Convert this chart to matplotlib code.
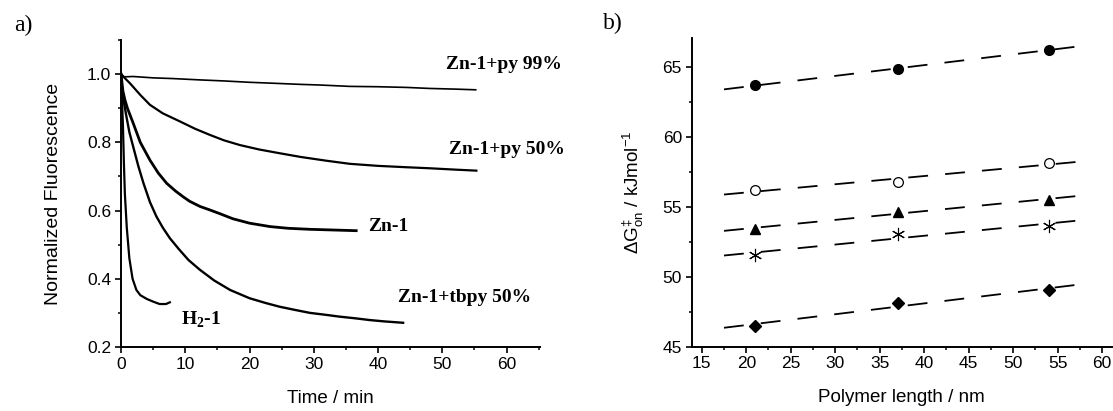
import numpy as np
import matplotlib
matplotlib.use("Agg")
import matplotlib.pyplot as plt
from matplotlib.ticker import MultipleLocator

plt.rcParams['font.family'] = 'Liberation Sans'
plt.rcParams['mathtext.fontset'] = 'custom'
plt.rcParams['mathtext.rm'] = 'Liberation Serif:bold'
plt.rcParams['mathtext.sf'] = 'Liberation Sans'
plt.rcParams['mathtext.it'] = 'Liberation Sans:italic'
plt.rcParams['mathtext.bf'] = 'Liberation Sans:bold'

# ---- panel a: fluorescence decay traces ----
t_py99 = [0, 0.5, 1.9, 5, 8, 12.3, 16, 20, 24, 27.8, 31, 35.6, 40, 44.4, 48, 52, 55.2]
f_py99 = [1.0, 0.992, 0.993, 0.989, 0.987, 0.983, 0.980, 0.976, 0.973, 0.970, 0.968,
          0.964, 0.963, 0.961, 0.958, 0.956, 0.954]

t_py50 = [0, 0.5, 1.4, 3, 4.5, 6.5, 9.2, 11.5, 13.8, 16, 18.5, 21.5, 24.7, 28, 32,
          35.6, 40, 44.4, 48, 52, 55.3]
f_py50 = [1.0, 0.99, 0.973, 0.939, 0.91, 0.885, 0.861, 0.84, 0.822, 0.806, 0.792,
          0.779, 0.768, 0.757, 0.746, 0.737, 0.731, 0.727, 0.724, 0.72, 0.717]

t_zn1 = [0, 0.3, 0.6, 1.0, 1.9, 3, 4.5, 5.8, 7.1, 8.5, 9.7, 10.7, 12.3, 13.8, 15.5,
         17.4, 20, 23.2, 26, 29.4, 33, 36.6]
f_zn1 = [1.0, 0.95, 0.925, 0.9, 0.856, 0.8, 0.748, 0.71, 0.68, 0.657, 0.64, 0.627,
         0.612, 0.602, 0.59, 0.576, 0.563, 0.553, 0.548, 0.545, 0.543, 0.541]

t_tbpy = [0, 0.2, 0.4, 0.8, 1.3, 1.9, 2.7, 3.5, 4.5, 5.5, 6.5, 7.6, 9, 10.5, 12.3,
          14.5, 17, 20, 22.5, 24.7, 27, 29.4, 32, 34, 36.5, 38.7, 41, 43.9]
f_tbpy = [1.0, 0.95, 0.924, 0.88, 0.83, 0.787, 0.73, 0.68, 0.625, 0.583, 0.55, 0.519,
          0.487, 0.455, 0.426, 0.395, 0.367, 0.343, 0.329, 0.318, 0.309, 0.300, 0.294,
          0.289, 0.284, 0.279, 0.275, 0.271]

t_h2 = [0, 0.15, 0.3, 0.45, 0.6, 0.9, 1.3, 1.8, 2.4, 3, 4, 5, 6, 7, 7.6]
f_h2 = [1.0, 0.93, 0.85, 0.74, 0.65, 0.55, 0.46, 0.40, 0.367, 0.352, 0.341, 0.333,
        0.326, 0.326, 0.331]

curve_labels = ['Zn-1+py 99%', 'Zn-1+py 50%', 'Zn-1', 'Zn-1+tbpy 50%', r'H$_{2}$-1']
label_x = [50.5, 51.0, 38.5, 43.1, 9.4]
label_y = [1.027, 0.778, 0.553, 0.344, 0.281]

# ---- panel b: activation energy vs polymer length ----
length_nm = [21, 37, 54]
g_filled_circle = [63.66, 64.86, 66.2]
g_open_circle = [56.2, 56.77, 58.13]
g_triangle = [53.43, 54.62, 55.5]
g_asterisk = [51.56, 53.07, 53.64]
g_diamond = [46.5, 48.1, 49.06]
fit_range = [17.5, 57.5]

fig = plt.figure(figsize=(11.13, 4.11), dpi=100)
ax1 = fig.add_axes([121 / 1113, 64 / 411, 419 / 1113, 307 / 411])
ax2 = fig.add_axes([691.7 / 1113, 64.3 / 411, 420.3 / 1113, 309 / 411])

for ax in (ax1, ax2):
    for side in ('top', 'right'):
        ax.spines[side].set_visible(False)
    for side in ('left', 'bottom'):
        ax.spines[side].set_linewidth(1.4)
    ax.tick_params(which='major', direction='out', length=4, width=1.2,
                   labelsize=12.5, pad=3)
    ax.tick_params(which='minor', direction='out', length=2.5, width=1.1)

ax1.plot(t_py99, f_py99, color='black', lw=1.2)
ax1.plot(t_py50, f_py50, color='black', lw=1.6)
ax1.plot(t_zn1, f_zn1, color='black', lw=2.0)
ax1.plot(t_tbpy, f_tbpy, color='black', lw=1.7)
ax1.plot(t_h2, f_h2, color='black', lw=1.6)

for txt, x, y in zip(curve_labels, label_x, label_y):
    ax1.text(x, y, txt, ha='left', va='center', fontsize=14, fontweight='bold',
             family='Liberation Serif', clip_on=False)

ax1.set_xlim(0, 65.2)
ax1.set_ylim(0.2, 1.1)
ax1.xaxis.set_minor_locator(MultipleLocator(5))
ax1.yaxis.set_minor_locator(MultipleLocator(0.1))
ax1.set_yticks([0.2, 0.4, 0.6, 0.8, 1.0])
ax1.set_yticklabels(['0.2', '0.4', '0.6', '0.8', '1.0'])
ax1.set_xticks([0, 10, 20, 30, 40, 50, 60])
ax1.set_xlabel('Time / min', fontsize=13.5, labelpad=13)
ax1.set_ylabel('Normalized Fluorescence', fontsize=14, labelpad=18)

series = [
    (g_filled_circle, dict(marker='o', ms=7, mfc='black', mec='black')),
    (g_open_circle, dict(marker='o', ms=7, mfc='white', mec='black', mew=0.9)),
    (g_triangle, dict(marker='^', ms=7.5, mfc='black', mec='black')),
    (g_asterisk, dict(marker=(6, 2, 0), ms=9.5, mfc='black', mec='black', mew=0.8)),
    (g_diamond, dict(marker='D', ms=6.5, mfc='black', mec='black')),
]
xfit = np.array(fit_range)
for vals, style in series:
    slope, icpt = np.polyfit(length_nm, vals, 1)
    ax2.plot(xfit, slope * xfit + icpt, color='black', lw=1.3,
             dashes=(11, 9.5), zorder=2)
    ax2.plot(length_nm, vals, ls='none', zorder=3, **style)

ax2.set_xlim(13.87, 61.1)
ax2.set_ylim(45, 67.07)
ax2.xaxis.set_minor_locator(MultipleLocator(2.5))
ax2.yaxis.set_major_locator(MultipleLocator(5))
ax2.yaxis.set_minor_locator(MultipleLocator(2.5))
ax2.set_xticks([15, 20, 25, 30, 35, 40, 45, 50, 55, 60])
ax2.set_xlabel('Polymer length / nm', fontsize=13.5, labelpad=13)
ax2.set_ylabel(r'ΔG$^{\mathsf{\ddagger}}_{\mathsf{on}}$ / kJmol$^{\mathsf{-1}}$',
               fontsize=13.5, labelpad=12)

fig.text(23 / 1113, 1 - 25 / 411, 'a)', fontsize=17, family='Liberation Serif',
         ha='center', va='center')
fig.text(613 / 1113, 1 - 23 / 411, 'b)', fontsize=17, family='Liberation Serif',
         ha='center', va='center')

fig.savefig('out.png', dpi=100)
